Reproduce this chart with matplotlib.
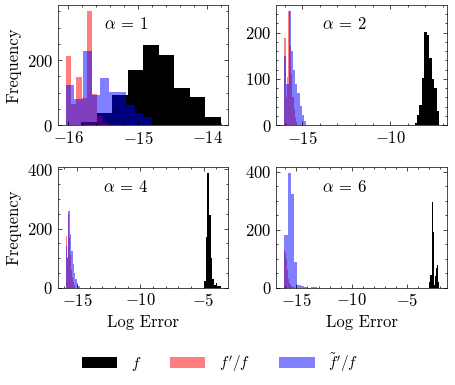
import numpy as np
import matplotlib
matplotlib.use('Agg')
from matplotlib import pyplot as plt
from matplotlib.ticker import MultipleLocator, AutoMinorLocator

plt.rcParams['font.family'] = 'serif'
plt.rcParams['font.serif'] = ['cmr10']
plt.rcParams['mathtext.fontset'] = 'cm'
plt.rcParams['axes.formatter.use_mathtext'] = True
plt.rcParams['font.size'] = 12
plt.rcParams['axes.linewidth'] = 0.5

# alpha values, one per panel
alphas = [1, 2, 4, 6]

# log10 error histograms: (bin range, counts)
# f
f_range = [(-16.04, -13.81), (-8.60, -7.20), (-4.95, -3.65), (-3.06, -2.12)]
f_counts = [
    [1, 10, 38, 94, 169, 247, 215, 114, 86, 26],
    [5, 22, 44, 102, 202, 194, 146, 100, 81, 31],
    [23, 172, 388, 247, 100, 30, 8, 14, 6, 4],
    [21, 44, 44, 296, 191, 10, 40, 67, 79, 21],
]
# f'/f
fp_range = [(-16.04, -15.28), (-16.04, -15.28), (-15.90, -15.20), (-16.10, -15.20)]
fp_counts = [
    [212, 66, 148, 84, 352, 96, 28, 8, 4, 2],
    [189, 60, 105, 247, 170, 110, 60, 35, 16, 8],
    [174, 70, 105, 250, 170, 110, 60, 35, 18, 8],
    [130, 119, 100, 60, 30, 15, 8, 4, 2, 1],
]
# f~'/f
ft_range = [(-16.04, -14.80), (-16.04, -14.79), (-15.90, -14.80), (-16.10, -13.10)]
ft_counts = [
    [125, 82, 228, 92, 146, 101, 101, 62, 39, 24],
    [150, 90, 247, 160, 120, 90, 70, 42, 22, 9],
    [140, 100, 259, 180, 125, 80, 50, 30, 14, 5],
    [180, 395, 322, 87, 9, 4, 1, 0, 1, 1],
]

x_major = [1, 5, 5, 5]
y_major = [200, 100, 200, 200]

fig, axs = plt.subplots(2, 2, figsize=(4.56, 3.85), dpi=100)
fig.subplots_adjust(left=0.127, right=0.980, top=0.987, bottom=0.253,
                    wspace=0.282, hspace=0.349)


def draw(ax, rng, counts, **kw):
    edges = np.linspace(rng[0], rng[1], len(counts) + 1)
    _, _, patches = ax.hist(edges[:-1], bins=edges, weights=counts, **kw)
    return patches


for i, ax in enumerate(axs.flat):
    h1 = draw(ax, f_range[i], f_counts[i], color='black')
    h2 = draw(ax, fp_range[i], fp_counts[i], color='red', alpha=0.5)
    h3 = draw(ax, ft_range[i], ft_counts[i], color='blue', alpha=0.5)
    ax.text(0.4, 0.84, r'$\alpha\:=\:%d$' % alphas[i], transform=ax.transAxes,
            ha='center', va='center')
    ax.xaxis.set_major_locator(MultipleLocator(x_major[i]))
    ax.yaxis.set_major_locator(MultipleLocator(y_major[i]))
    ax.xaxis.set_minor_locator(AutoMinorLocator())
    ax.yaxis.set_minor_locator(AutoMinorLocator())
    ax.tick_params(which='both', direction='in', top=True, right=True, width=0.5)
    ax.tick_params(which='major', length=3)
    ax.tick_params(which='minor', length=1.5)
    if i % 2 == 0:
        ax.set_ylabel('Frequency')
    if i >= 2:
        ax.set_xlabel('Log Error')

fig.legend([h1[0], h2[0], h3[0]], [r'$f$', r"$f'/f$", r"$\tilde{f}'/f$"],
           loc='center', bbox_to_anchor=(0.483, 0.058), ncol=3, frameon=False,
           fontsize=11, handlelength=2.3, handletextpad=0.9, columnspacing=1.9)

plt.savefig('out.png', dpi=100)
